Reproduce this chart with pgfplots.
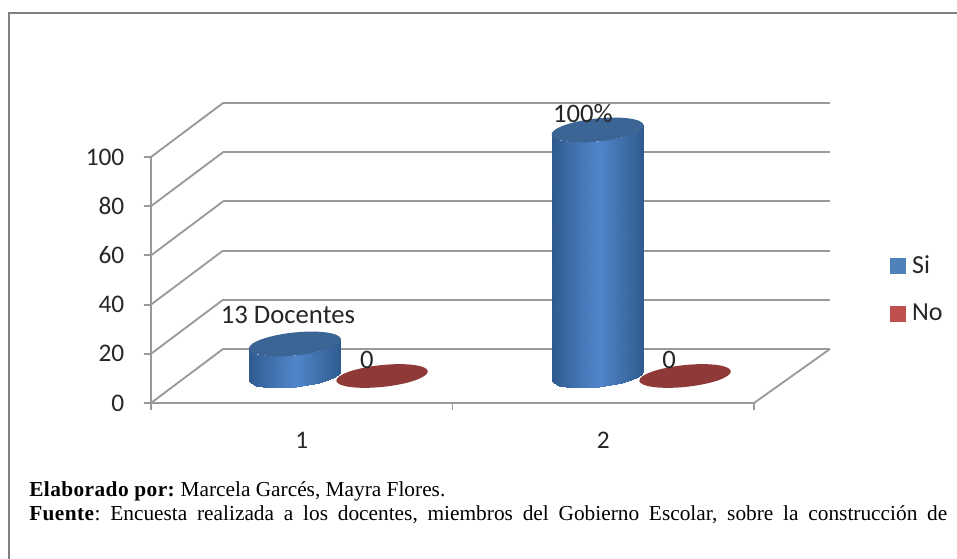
\documentclass[border=0pt]{standalone}
\usepackage{fontspec}
\usepackage{pgfplots}
\pgfplotsset{compat=1.18}
\setmainfont{Carlito}
\newfontfamily\ser{Liberation Serif}
\frenchspacing
\definecolor{gridc}{HTML}{9A9A9A}
\definecolor{framec}{HTML}{808080}
\definecolor{txt}{HTML}{262626}
\definecolor{siEdge}{HTML}{2F5B8E}
\definecolor{siMid}{HTML}{5286CC}
\definecolor{siTop}{HTML}{3B6595}
\definecolor{noFill}{HTML}{8F3A38}
\definecolor{siLeg}{HTML}{4F81BD}
\definecolor{noLeg}{HTML}{C0504D}
\pgfdeclareplotmark{captop}{\pgfsetfillcolor{siTop}\pgfpathellipse{\pgfpointorigin}{\pgfqpoint{34.5pt}{3.6pt}}{\pgfqpoint{-0.9pt}{8.6pt}}\pgfusepath{fill}}
\pgfdeclareplotmark{capno}{\pgfsetfillcolor{noFill}\pgfpathellipse{\pgfpointorigin}{\pgfqpoint{34.3pt}{3.6pt}}{\pgfqpoint{-0.86pt}{8.13pt}}\pgfusepath{fill}}
\pgfplotsset{
  base/.style={scale only axis,width=452.25pt,height=184.5pt,xmin=0.5,xmax=2.5,ymin=0,ymax=100,anchor=origin,clip=false},
  body/.style={patch,patch type=rectangle,shader=interp,point meta=explicit,forget plot,point meta min=0,point meta max=1,
    colormap={cyl}{color=(siMid) color=(siEdge)}},
}
\begin{document}
\begin{tikzpicture}[x=0.75pt,y=0.75pt]
\path[use as bounding box] (0,0) rectangle (957,559);
\draw[framec,line width=1.6pt] (9,0) -- (9,546) -- (957,546);
% back wall
\begin{axis}[base,at={(167.25pt,157.5pt)},width=455.25pt,
  axis line style={draw=none},major tick length=0pt,xtick=\empty,ytick={0,20,40,60,80,100},yticklabels={},
  ymajorgrids,grid style={gridc,line width=1.4pt}]
\end{axis}
% front plane
\begin{axis}[base,at={(113.25pt,117pt)},
  axis x line=bottom,axis y line=left,axis line style={gridc,line width=1.4pt,-},
  xtick={0.5,1.5,2.5},xticklabels={},
  extra x ticks={1,2},extra x tick labels={1,2},
  extra x tick style={major tick length=0pt,xticklabel style={yshift=-18pt}},
  ytick={0,20,40,60,80,100},
  tick style={gridc,line width=1.4pt},major tick length=5.5pt,
  tick align=outside,
  ticklabel style={font=\fontsize{19}{21}\selectfont,text=txt,/pgf/number format/assume math mode=true},
  yticklabel style={xshift=-11pt},
]
\addplot[gridc,line width=1.4pt,forget plot] coordinates {(0.5,0) (0.739,21.95)};
\addplot[gridc,line width=1.4pt,forget plot] coordinates {(0.5,20) (0.739,41.95)};
\addplot[gridc,line width=1.4pt,forget plot] coordinates {(0.5,40) (0.739,61.95)};
\addplot[gridc,line width=1.4pt,forget plot] coordinates {(0.5,60) (0.739,81.95)};
\addplot[gridc,line width=1.4pt,forget plot] coordinates {(0.5,80) (0.739,101.95)};
\addplot[gridc,line width=1.4pt,forget plot] coordinates {(0.5,100) (0.739,121.95)};
\addplot[gridc,line width=1.4pt,forget plot] coordinates {(2.5,0) (2.752,21.95)};
\end{axis}
% mid plane: the bars
\begin{axis}[base,at={(140.25pt,137.25pt)},
  axis line style={draw=none},xtick=\empty,ytick=\empty,
  legend style={at={(527pt,48.5pt)},anchor=south west,draw=none,fill=none,
     font=\fontsize{19.5}{21}\selectfont,text=txt,
     row sep=21.5pt,inner sep=0pt,nodes={inner sep=0pt}},
  legend cell align=left,
]
% Si, category 1: value 13 (body, then top cap)
\addplot[body] table[meta=c] {
x y c
.7063 -1.955 1
.7124 -3.033 .96
.7124 9.967 .96
.7063 11.045 1
.7124 -3.033 .96
.7285 -3.898 .854
.7285 9.102 .854
.7124 9.967 .96
.7285 -3.898 .854
.7534 -4.496 .69
.7534 8.504 .69
.7285 9.102 .854
.7534 -4.496 .69
.7854 -4.797 .479
.7854 8.203 .479
.7534 8.504 .69
.7854 -4.797 .479
.8223 -4.764 .235
.8223 8.236 .235
.7854 8.203 .479
.8223 -4.764 .235
.8618 -4.407 .025
.8618 8.593 .025
.8223 8.236 .235
.8618 -4.407 .025
.9010 -3.748 .283
.9010 9.252 .283
.8618 8.593 .025
.9010 -3.748 .283
.9372 -2.837 .522
.9372 10.163 .522
.9010 9.252 .283
.9372 -2.837 .522
.9680 -1.732 .725
.9680 11.268 .725
.9372 10.163 .522
.9680 -1.732 .725
.9913 -.508 .879
.9913 12.492 .879
.9680 11.268 .725
.9913 -.508 .879
1.0056 .748 .973
1.0056 13.748 .973
.9913 12.492 .879
1.0056 .748 .973
1.0097 1.955 1
1.0097 14.955 1
1.0056 13.748 .973
};
\addplot[only marks,mark=captop,forget plot] coordinates {(0.858,13)};
% No, category 1: value 0
\addplot[only marks,mark=capno,forget plot] coordinates {(1.147,0)};
% Si, category 2: value 100
\addplot[body] table[meta=c] {
x y c
1.7103 -1.955 1
1.7164 -3.033 .96
1.7164 96.967 .96
1.7103 98.045 1
1.7164 -3.033 .96
1.7325 -3.898 .854
1.7325 96.102 .854
1.7164 96.967 .96
1.7325 -3.898 .854
1.7574 -4.496 .69
1.7574 95.504 .69
1.7325 96.102 .854
1.7574 -4.496 .69
1.7894 -4.797 .479
1.7894 95.203 .479
1.7574 95.504 .69
1.7894 -4.797 .479
1.8263 -4.764 .235
1.8263 95.236 .235
1.7894 95.203 .479
1.8263 -4.764 .235
1.8658 -4.407 .025
1.8658 95.593 .025
1.8263 95.236 .235
1.8658 -4.407 .025
1.9050 -3.748 .283
1.9050 96.252 .283
1.8658 95.593 .025
1.9050 -3.748 .283
1.9412 -2.837 .522
1.9412 97.163 .522
1.9050 96.252 .283
1.9412 -2.837 .522
1.9720 -1.732 .725
1.9720 98.268 .725
1.9412 97.163 .522
1.9720 -1.732 .725
1.9953 -.508 .879
1.9953 99.492 .879
1.9720 98.268 .725
1.9953 -.508 .879
2.0096 .748 .973
2.0096 100.748 .973
1.9953 99.492 .879
2.0096 .748 .973
2.0137 1.955 1
2.0137 101.955 1
2.0096 100.748 .973
};
\addplot[only marks,mark=captop,forget plot] coordinates {(1.862,100)};
% No, category 2: value 0
\addplot[only marks,mark=capno,forget plot] coordinates {(2.152,0)};
% data labels
\addplot[only marks,mark=none,forget plot,point meta=explicit symbolic,
  nodes near coords,
  nodes near coords style={anchor=center,inner sep=0pt,text=txt,font=\fontsize{20}{22}\selectfont}]
  coordinates {(0.835,24.8)[13 Docentes] (1.097,6.5)[0] (2.099,6.5)[0] (1.813,106.9)[100\%]};
\addlegendimage{legend image code/.code={\fill[siLeg] (0pt,-5.6pt) rectangle (11.2pt,5.6pt);}}
\addlegendentry{\hspace{5pt}Si}
\addlegendimage{legend image code/.code={\fill[noLeg] (0pt,-5.6pt) rectangle (11.2pt,5.6pt);}}
\addlegendentry{\hspace{5pt}No}
\end{axis}
\node[anchor=base west,inner sep=0pt,text=black,font=\ser\fontsize{16}{18}\selectfont] at (29,62)
  {\textbf{\addfontfeature{LetterSpace=2}Elaborado por:} Marcela Garcés, Mayra Flores.};
\node[anchor=base west,inner sep=0pt,text=black,font=\ser\fontsize{16}{18}\selectfont] at (29,38)
  {\makebox[688.5pt][s]{\textbf{\addfontfeature{LetterSpace=2}Fuente}: Encuesta realizada a los docentes, miembros del Gobierno Escolar, sobre la construcción de}};
\end{tikzpicture}
\end{document}
